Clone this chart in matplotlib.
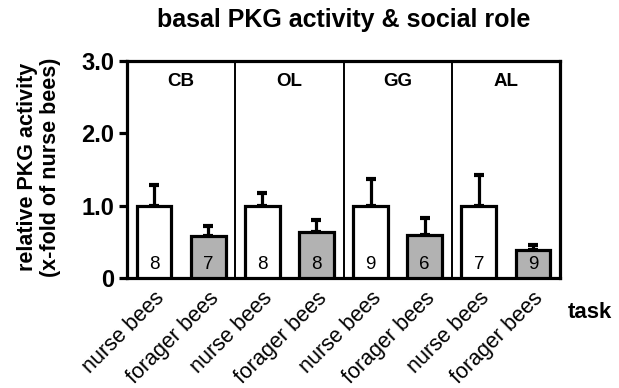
import matplotlib
matplotlib.use("Agg")
import matplotlib.pyplot as plt
import matplotlib.transforms as mtransforms
import numpy as np

plt.rcParams['font.family'] = ['Liberation Sans', 'DejaVu Sans']

regions = ["CB", "OL", "GG", "AL"]
groups = ["nurse bees", "forager bees"]
nurse_vals = [1.0, 1.0, 1.0, 1.0]
nurse_err = [0.29, 0.18, 0.37, 0.42]
forager_vals = [0.58, 0.64, 0.60, 0.39]
forager_err = [0.14, 0.16, 0.23, 0.07]
nurse_n = [8, 8, 9, 7]
forager_n = [7, 8, 6, 9]
yticks = [0, 1.0, 2.0, 3.0]
ytick_labels = ["0", "1.0", "2.0", "3.0"]

fig = plt.figure(figsize=(6.19, 3.88), dpi=100)
ax = fig.add_axes([127/619, 1-278/388, 433/619, 217/388])

lw = 2.3
w = 0.32
xs_n = np.arange(4) + 0.25
xs_f = np.arange(4) + 0.75
ax.bar(xs_n, nurse_vals, width=w, color="white", edgecolor="black", linewidth=lw, zorder=3)
ax.bar(xs_f, forager_vals, width=w, color="#b2b2b2", edgecolor="black", linewidth=lw, zorder=3)
for x, v, e in zip(xs_n, nurse_vals, nurse_err):
    ax.errorbar([x], [v], yerr=[[0], [e]], fmt="none", ecolor="black", elinewidth=lw, capsize=3.5, capthick=3, zorder=2)
for x, v, e in zip(xs_f, forager_vals, forager_err):
    ax.errorbar([x], [v], yerr=[[0], [e]], fmt="none", ecolor="black", elinewidth=lw, capsize=3.5, capthick=3, zorder=2)
for x, n in zip(xs_n, nurse_n):
    ax.text(x, 0.19, str(n), ha="center", va="center", fontsize=13.5, zorder=4)
for x, n in zip(xs_f, forager_n):
    ax.text(x, 0.19, str(n), ha="center", va="center", fontsize=13.5, zorder=4)
for i, r in enumerate(regions):
    ax.text(i + 0.5, 2.71, r, ha="center", va="center", fontsize=13.5, fontweight="bold")
for i in range(1, 4):
    ax.axvline(i, color="black", linewidth=1.4)

ax.set_xlim(0, 4)
ax.set_ylim(0, 3.0)
ax.set_yticks(yticks)
ax.set_yticklabels(ytick_labels, fontsize=17, fontweight="bold")
xt = []
xl = []
for i in range(4):
    xt += [xs_n[i], xs_f[i]]
    xl += groups
ax.set_xticks(xt)
ax.set_xticklabels(xl, rotation=45, ha="right", rotation_mode="anchor", fontsize=15.5)
offset = mtransforms.ScaledTranslation(8/100, 0, fig.dpi_scale_trans)
for lab in ax.get_xticklabels():
    lab.set_transform(lab.get_transform() + offset)
ax.tick_params(axis="x", length=0, pad=7)
ax.tick_params(axis="y", length=6, width=lw, direction="out", pad=3)
for s in ax.spines.values():
    s.set_linewidth(lw)
fig.text(39/619, 1-167/388, "relative PKG activity\n(x-fold of nurse bees)", rotation=90,
         ha="center", va="center", fontsize=15.5, fontweight="bold", linespacing=1.1)
fig.text(590/619, 1-313/388, "task", ha="center", va="center", fontsize=16, fontweight="bold")
fig.text(344/619, 1-20/388, "basal PKG activity & social role", ha="center", va="center", fontsize=18, fontweight="bold")

fig.savefig("out.png", dpi=100)
